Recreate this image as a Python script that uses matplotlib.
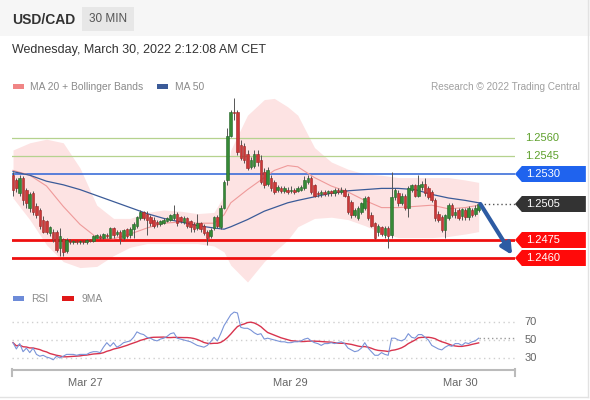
import matplotlib
matplotlib.use("Agg")
import matplotlib.pyplot as plt
from matplotlib.patches import Rectangle, Polygon
import numpy as np
import pandas as pd

plt.rcParams['font.family'] = ['Liberation Sans', 'DejaVu Sans']

# USD/CAD 30 min candles, oldest first
opens = [1.2529, 1.2525, 1.2514, 1.2527, 1.2517, 1.2502, 1.2514, 1.2503, 1.2500, 1.2492,
         1.2491, 1.2481, 1.2482, 1.2482, 1.2468, 1.2476, 1.2466, 1.2474, 1.2473, 1.2474,
         1.2473, 1.2474, 1.2473, 1.2475, 1.2474, 1.2477, 1.2478, 1.2477, 1.2479, 1.2477,
         1.2485, 1.2480, 1.2482, 1.2477, 1.2484, 1.2479, 1.2484, 1.2487, 1.2493, 1.2498,
         1.2497, 1.2494, 1.2492, 1.2490, 1.2488, 1.2489, 1.2491, 1.2492, 1.2493, 1.2497,
         1.2494, 1.2490, 1.2493, 1.2491, 1.2488, 1.2485, 1.2489, 1.2487, 1.2482, 1.2478,
         1.2485, 1.2494, 1.2486, 1.2502, 1.2525, 1.2562, 1.2582, 1.2582, 1.2554, 1.2553,
         1.2547, 1.2536, 1.2537, 1.2547, 1.2542, 1.2532, 1.2522, 1.2527, 1.2523, 1.2517,
         1.2518, 1.2516, 1.2517, 1.2516, 1.2517, 1.2516, 1.2517, 1.2518, 1.2523, 1.2527,
         1.2521, 1.2514, 1.2513, 1.2515, 1.2514, 1.2516, 1.2514, 1.2517, 1.2515, 1.2517,
         1.2512, 1.2507, 1.2496, 1.2493, 1.2498, 1.2502, 1.2511, 1.2496, 1.2489, 1.2482,
         1.2486, 1.2479, 1.2485, 1.2479, 1.2511, 1.2514, 1.2506, 1.2512, 1.2502, 1.2517,
         1.2521, 1.2512, 1.2519, 1.2522, 1.2518, 1.2515, 1.2508, 1.2497, 1.2494, 1.2483,
         1.2493, 1.2504, 1.2496, 1.2500, 1.2495, 1.2500, 1.2494, 1.2500, 1.2497, 1.2500]
highs = [1.2532, 1.2527, 1.2529, 1.2528, 1.2518, 1.2515, 1.2516, 1.2506, 1.2502, 1.2495,
         1.2492, 1.2487, 1.2484, 1.2483, 1.2485, 1.2477, 1.2477, 1.2476, 1.2475, 1.2475,
         1.2475, 1.2475, 1.2476, 1.2476, 1.2479, 1.2480, 1.2480, 1.2481, 1.2481, 1.2486,
         1.2486, 1.2483, 1.2483, 1.2484, 1.2485, 1.2486, 1.2490, 1.2495, 1.2500, 1.2499,
         1.2499, 1.2496, 1.2494, 1.2492, 1.2492, 1.2493, 1.2494, 1.2497, 1.2504, 1.2498,
         1.2495, 1.2495, 1.2494, 1.2492, 1.2490, 1.2497, 1.2490, 1.2488, 1.2483, 1.2485,
         1.2495, 1.2496, 1.2504, 1.2525, 1.2568, 1.2583, 1.2593, 1.2583, 1.2558, 1.2556,
         1.2550, 1.2544, 1.2550, 1.2550, 1.2546, 1.2535, 1.2536, 1.2529, 1.2525, 1.2521,
         1.2520, 1.2520, 1.2519, 1.2520, 1.2518, 1.2520, 1.2521, 1.2528, 1.2529, 1.2528,
         1.2522, 1.2516, 1.2517, 1.2517, 1.2517, 1.2517, 1.2518, 1.2518, 1.2519, 1.2518,
         1.2514, 1.2508, 1.2502, 1.2503, 1.2507, 1.2512, 1.2512, 1.2498, 1.2490, 1.2488,
         1.2487, 1.2487, 1.2487, 1.2532, 1.2518, 1.2517, 1.2514, 1.2513, 1.2520, 1.2522,
         1.2522, 1.2529, 1.2524, 1.2527, 1.2520, 1.2517, 1.2510, 1.2499, 1.2496, 1.2497,
         1.2506, 1.2506, 1.2502, 1.2502, 1.2502, 1.2502, 1.2503, 1.2502, 1.2504, 1.2507]
lows = [1.2512, 1.2515, 1.2512, 1.2504, 1.2502, 1.2498, 1.2496, 1.2493, 1.2484, 1.2481,
        1.2480, 1.2478, 1.2473, 1.2465, 1.2462, 1.2462, 1.2464, 1.2472, 1.2472, 1.2472,
        1.2472, 1.2472, 1.2472, 1.2473, 1.2473, 1.2477, 1.2476, 1.2476, 1.2477, 1.2477,
        1.2477, 1.2478, 1.2472, 1.2475, 1.2477, 1.2477, 1.2477, 1.2485, 1.2492, 1.2492,
        1.2479, 1.2487, 1.2485, 1.2486, 1.2487, 1.2488, 1.2490, 1.2491, 1.2492, 1.2487,
        1.2489, 1.2488, 1.2485, 1.2482, 1.2482, 1.2483, 1.2482, 1.2479, 1.2471, 1.2477,
        1.2483, 1.2485, 1.2484, 1.2501, 1.2521, 1.2561, 1.2575, 1.2546, 1.2542, 1.2539,
        1.2533, 1.2534, 1.2535, 1.2537, 1.2522, 1.2518, 1.2520, 1.2516, 1.2513, 1.2515,
        1.2514, 1.2514, 1.2513, 1.2514, 1.2513, 1.2515, 1.2516, 1.2517, 1.2522, 1.2513,
        1.2511, 1.2511, 1.2511, 1.2512, 1.2512, 1.2512, 1.2512, 1.2513, 1.2513, 1.2511,
        1.2497, 1.2493, 1.2494, 1.2492, 1.2497, 1.2500, 1.2492, 1.2486, 1.2476, 1.2478,
        1.2478, 1.2477, 1.2468, 1.2477, 1.2508, 1.2503, 1.2504, 1.2500, 1.2494, 1.2515,
        1.2511, 1.2511, 1.2517, 1.2512, 1.2509, 1.2507, 1.2491, 1.2490, 1.2482, 1.2477,
        1.2492, 1.2494, 1.2493, 1.2492, 1.2492, 1.2492, 1.2492, 1.2494, 1.2495, 1.2498]
closes = [1.2517, 1.2518, 1.2527, 1.2508, 1.2506, 1.2513, 1.2498, 1.2496, 1.2487, 1.2482,
          1.2482, 1.2486, 1.2475, 1.2467, 1.2478, 1.2465, 1.2475, 1.2473, 1.2474, 1.2473,
          1.2474, 1.2473, 1.2475, 1.2474, 1.2478, 1.2479, 1.2477, 1.2480, 1.2478, 1.2485,
          1.2479, 1.2482, 1.2476, 1.2483, 1.2478, 1.2484, 1.2488, 1.2494, 1.2498, 1.2493,
          1.2492, 1.2489, 1.2487, 1.2488, 1.2491, 1.2492, 1.2493, 1.2496, 1.2497, 1.2489,
          1.2491, 1.2493, 1.2487, 1.2486, 1.2484, 1.2489, 1.2484, 1.2481, 1.2477, 1.2483,
          1.2494, 1.2487, 1.2502, 1.2523, 1.2562, 1.2582, 1.2581, 1.2548, 1.2543, 1.2542,
          1.2535, 1.2542, 1.2547, 1.2540, 1.2523, 1.2521, 1.2533, 1.2518, 1.2515, 1.2519,
          1.2516, 1.2518, 1.2515, 1.2517, 1.2515, 1.2518, 1.2519, 1.2525, 1.2527, 1.2515,
          1.2512, 1.2513, 1.2515, 1.2513, 1.2516, 1.2514, 1.2517, 1.2515, 1.2517, 1.2512,
          1.2498, 1.2496, 1.2500, 1.2502, 1.2506, 1.2510, 1.2493, 1.2487, 1.2477, 1.2487,
          1.2480, 1.2485, 1.2478, 1.2511, 1.2517, 1.2506, 1.2512, 1.2502, 1.2518, 1.2521,
          1.2512, 1.2521, 1.2522, 1.2514, 1.2511, 1.2508, 1.2493, 1.2492, 1.2483, 1.2496,
          1.2504, 1.2496, 1.2498, 1.2493, 1.2501, 1.2494, 1.2502, 1.2496, 1.2502, 1.2505]

# MA 20, Bollinger bands and MA 50, read at these candle numbers
ind_at = [0, 5, 10, 15, 20, 25, 30, 35, 40, 45, 50, 55, 60, 63, 65, 70,
          75, 78, 82, 85, 90, 95, 100, 105, 110, 115, 120, 125, 130, 135, 139]
ma20 = [1.2533, 1.2529, 1.2520, 1.2503, 1.2488, 1.2477, 1.2476, 1.2480, 1.2485, 1.2489,
        1.2490, 1.2489, 1.2489, 1.2496, 1.2506, 1.2517, 1.2527, 1.2533, 1.2537, 1.2536,
        1.2527, 1.2520, 1.2515, 1.2508, 1.2502, 1.2502, 1.2503, 1.2504, 1.2501, 1.2502, 1.2504]
ma50 = [1.2532, 1.2529, 1.2524, 1.2521, 1.2517, 1.2512, 1.2507, 1.2502, 1.2497, 1.2493,
        1.2490, 1.2487, 1.2485, 1.2484, 1.2486, 1.2492, 1.2499, 1.2502, 1.2506, 1.2508,
        1.2511, 1.2514, 1.2516, 1.2517, 1.2518, 1.2518, 1.2517, 1.2513, 1.2510, 1.2508, 1.2506]
bb_upper = [1.2550, 1.2556, 1.2559, 1.2556, 1.2535, 1.2504, 1.2493, 1.2493, 1.2498, 1.2500,
            1.2499, 1.2497, 1.2498, 1.2512, 1.2550, 1.2579, 1.2592, 1.2593, 1.2586, 1.2579,
            1.2552, 1.2540, 1.2534, 1.2530, 1.2529, 1.2527, 1.2527, 1.2527, 1.2527, 1.2525, 1.2523]
bb_lower = [1.2510, 1.2492, 1.2471, 1.2457, 1.2452, 1.2453, 1.2462, 1.2469, 1.2472, 1.2472,
            1.2472, 1.2472, 1.2470, 1.2465, 1.2454, 1.2440, 1.2457, 1.2465, 1.2475, 1.2486,
            1.2493, 1.2494, 1.2492, 1.2487, 1.2481, 1.2477, 1.2477, 1.2477, 1.2478, 1.2480, 1.2482]

rsi = [47, 40, 46, 37, 41, 36, 41, 34, 32, 33,
       31, 30, 28, 32, 30, 32, 34, 34, 34, 33,
       34, 34, 34, 36, 37, 37, 36, 42, 47, 43,
       47, 42, 44, 47, 48, 49, 53, 59, 57, 56,
       53, 52, 50, 49, 51, 52, 54, 57, 58, 52,
       51, 50, 49, 48, 46, 44, 43, 42, 44, 48,
       53, 49, 57, 66, 72, 78, 81, 80, 64, 63,
       63, 61, 58, 56, 57, 51, 52, 51, 50, 49,
       48, 48, 47, 47, 48, 48, 49, 51, 52, 49,
       47, 46, 44, 46, 46, 47, 46, 47, 48, 46,
       41, 39, 37, 38, 41, 47, 41, 37, 33, 33,
       36, 34, 33, 52, 52, 50, 49, 51, 57, 53,
       52, 56, 56, 53, 50, 44, 42, 40, 39, 42,
       44, 43, 46, 46, 44, 47, 46, 48, 49, 52]

resistances = [1.2560, 1.2545]
pivot = 1.2530
last_price = 1.2505
supports = [1.2475, 1.2460]
target = 1.24625
rsi_levels = [70, 50, 30]
date_labels = ['Mar 27', 'Mar 29', 'Mar 30']
date_at = [21.5, 82.7, 133.4]

n = len(closes)
idx = np.arange(n)
o = np.array(opens)
c = np.array(closes)
rsi_ma = pd.Series(rsi).rolling(9, min_periods=1).mean()

fig = plt.figure(figsize=(5.9, 4.0), dpi=100)

# page layer in pixels: header, legends, frame
bg = fig.add_axes([0, 0, 1, 1])
bg.set_xlim(0, 590)
bg.set_ylim(400, 0)
bg.axis('off')
bg.add_patch(Rectangle((0, 0), 590, 36, color='#f6f6f6', lw=0))
bg.add_patch(Rectangle((82, 7), 52, 24, color='#e7e7e7', lw=0))
bg.text(12, 19.5, 'USD/CAD', fontsize=10, fontweight='bold', color='#333333', va='center')
bg.text(108, 19.5, '30 MIN', fontsize=8.5, color='#555555', va='center', ha='center')
bg.text(12, 50, 'Wednesday, March 30, 2022 2:12:08 AM CET', fontsize=9, color='#333333', va='center')
bg.add_patch(Rectangle((13, 84), 11, 5, color='#f08585', lw=0))
bg.text(30, 86.5, 'MA 20 + Bollinger Bands', fontsize=7.4, color='#8a8a8a', va='center')
bg.add_patch(Rectangle((157, 84), 11, 5, color='#3b5b98', lw=0))
bg.text(175, 86.5, 'MA 50', fontsize=7.4, color='#8a8a8a', va='center')
bg.text(580, 86.5, 'Research \u00a9 2022 Trading Central', fontsize=7.2, color='#a0a0a0',
        va='center', ha='right')
bg.add_patch(Rectangle((13, 296), 11, 5, color='#6d8bd8', lw=0))
bg.text(31, 298.5, 'RSI', fontsize=7.4, color='#8a8a8a', va='center')
bg.add_patch(Rectangle((62, 296), 12, 5, color='#e01818', lw=0))
bg.text(82, 298.5, '9MA', fontsize=7.4, color='#8a8a8a', va='center')
bg.plot([588, 588], [0, 397], color='#e2e2e2', lw=1)
bg.plot([0, 588], [397, 397], color='#e2e2e2', lw=1)
bg.plot([12, 12], [369, 376], color='#bbbbbb', lw=1.5)
bg.plot([515, 515], [369, 376], color='#bbbbbb', lw=1.5)

# price panel
ax = fig.add_axes([12 / 590, 1 - 285 / 400, 503 / 590, 193 / 400])
ax.patch.set_alpha(0)
ax.set_xlim(-0.3, 149.85)
ax.set_ylim(1.24375, 1.259833)
ax.axis('off')

ax.fill_between(ind_at, bb_lower, bb_upper, color='#fde3e3', lw=0, zorder=1)
ax.plot(ind_at, ma20, color='#ef9a9a', lw=0.8, zorder=2)
ax.plot(ind_at, ma50, color='#3b5b98', lw=0.9, zorder=2)

for lvl in resistances:
    ax.axhline(lvl, color='#b5d28e', lw=0.9, zorder=1.5)
    ax.text(152.8, lvl, f'{lvl:.4f}', color='#5ea02c', fontsize=8, va='center', clip_on=False)
ax.axhline(pivot, color='#2c63d6', lw=1.1, zorder=1.5)
for lvl in supports:
    ax.axhline(lvl, color='#ee1010', lw=2, zorder=1.5)
ax.plot([n - 0.6, 149.85], [last_price, last_price], color='#555555', lw=1,
        ls=(0, (1, 2)), clip_on=False)

h = 8 / 12000
for lvl, col in [(pivot, '#1f63ee'), (last_price, '#333333'),
                 (supports[0], '#ff0a0a'), (supports[1], '#ff0a0a')]:
    pts = [(149.85, lvl), (151.9, lvl + h), (171.0, lvl + h), (171.0, lvl - h), (151.9, lvl - h)]
    ax.add_patch(Polygon(pts, closed=True, color=col, lw=0, clip_on=False))
    ax.text(153.2, lvl, f'{lvl:.4f}', color='white', fontsize=8, va='center', clip_on=False)

up = c >= o
body_col = np.where(up, '#368a36', '#cc3838')
edge_col = np.where(up, '#24632a', '#9a2424')
ax.vlines(idx, lows, highs, color='#555555', lw=0.7, zorder=3)
ax.bar(idx, c - o, bottom=o, width=0.75, color=body_col, edgecolor=edge_col, lw=0.4, zorder=4)

ax.annotate('', xy=(149.0, target), xytext=(n - 0.5, last_price),
            arrowprops=dict(arrowstyle='-|>', lw=3, color='#2d5ba3',
                            mutation_scale=16, shrinkA=0, shrinkB=0),
            annotation_clip=False, zorder=5)

# RSI panel
rx = fig.add_axes([12 / 590, 1 - 370 / 400, 503 / 590, 70 / 400])
rx.patch.set_alpha(0)
rx.set_xlim(-0.3, 149.85)
rx.set_ylim(16.67, 94.4)
for lvl in rsi_levels:
    rx.axhline(lvl, color='#cfcfcf', lw=1, ls=(0, (1, 2.5)))
    rx.text(152.8, lvl, str(lvl), color='#666666', fontsize=8, va='center', clip_on=False)
rx.plot([n - 1, 149.85], [rsi[-1], rsi[-1]], color='#999999', lw=1, ls=(0, (1, 2)))
rx.plot(idx, rsi_ma, color='#d8344e', lw=1.0)
rx.plot(idx, rsi, color='#7a94d8', lw=0.8)
for side in ['top', 'left', 'right']:
    rx.spines[side].set_visible(False)
rx.spines['bottom'].set_color('#bbbbbb')
rx.spines['bottom'].set_linewidth(1.5)
rx.set_yticks([])
rx.set_xticks(date_at)
rx.set_xticklabels(date_labels, fontsize=8, color='#666666')
rx.tick_params(axis='x', length=0, pad=6)

fig.savefig('out.png', dpi=100)
